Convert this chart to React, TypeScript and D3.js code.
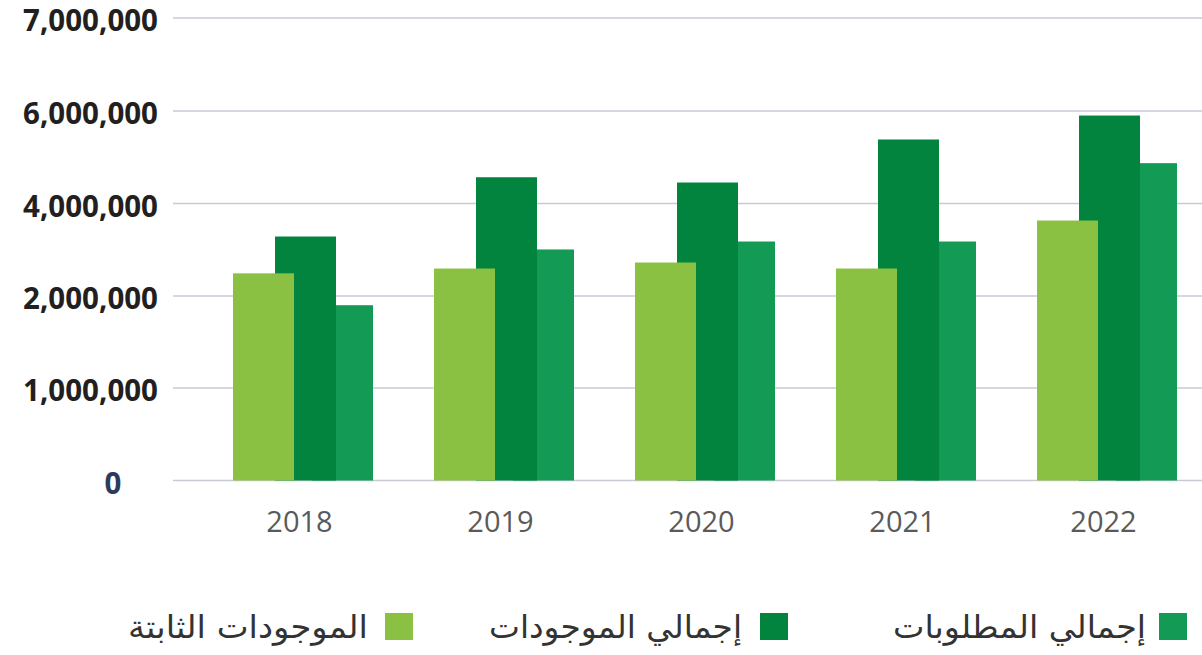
import React from "react";
import * as d3 from "d3";

const years = ["2018", "2019", "2020", "2021", "2022"];
const fixedAssets = [2490000, 2594000, 2724000, 2594000, 3632000];
const totalAssets = [3286000, 4568000, 4454000, 5384000, 5902000];
const totalLiabilities = [1900000, 3006000, 3178000, 3178000, 4872000];
const yTickValues = [0, 1000000, 2000000, 4000000, 6000000, 7000000];
const yTickLabels = ["0", "1,000,000", "2,000,000", "4,000,000", "6,000,000", "7,000,000"];

const seriesNames = ["الموجودات الثابتة", "إجمالي الموجودات", "إجمالي المطلوبات"];
const seriesColors = ["#8bc142", "#02843f", "#139a55"];

const W = 1202;
const H = 655;

export default function App() {
  const x = d3.scaleBand<string>().domain(years).range([173, 1236]).paddingInner(0.3085).paddingOuter(0.2985);
  const y = d3.scaleLinear().domain(yTickValues).range([480.5, 388, 296, 203.5, 111, 18]);
  const sub = d3.scaleOrdinal<number, number>().domain([0, 1, 2]).range([0, 42, 79]);
  const barW = 61;
  const series = [fixedAssets, totalAssets, totalLiabilities];
  const drawOrder = [2, 1, 0];

  const legendSquares = [385, 760, 1159];
  const legendTextEnd = [368, 742, 1146];
  const legendTextLen = [240, 253, 253];

  return (
    <svg width={W} height={H} style={{ position: "absolute", left: 0, top: 0, background: "#fff" }}>
      {yTickValues.map((v, i) => (
        <line key={"g" + i} x1={173} x2={W} y1={y(v)} y2={y(v)} stroke="#c9cad6" strokeWidth={1.5} />
      ))}
      {yTickValues.map((v, i) => (
        <text
          key={"yl" + i}
          x={v === 0 ? 113 : 158}
          y={y(v) + 13}
          textAnchor={v === 0 ? "middle" : "end"}
          fontFamily="'Open Sans', sans-serif"
          fontWeight={700}
          fontSize={29.5}
          fill={v === 0 ? "#2e3a5a" : "#231f20"}
        >
          {yTickLabels[i]}
        </text>
      ))}
      {drawOrder.map((s) =>
        years.map((yr, i) => (
          <rect
            key={"b" + s + "-" + i}
            x={(x(yr) as number) + sub(s)}
            y={y(series[s][i])}
            width={barW}
            height={y(0) - y(series[s][i])}
            fill={seriesColors[s]}
          />
        ))
      )}
      {years.map((yr) => (
        <text
          key={"xl" + yr}
          x={(x(yr) as number) + x.bandwidth() / 2 - 3}
          y={532}
          textAnchor="middle"
          fontFamily="'Open Sans', sans-serif"
          fontSize={29}
          fill="#5a5a5a"
        >
          {yr}
        </text>
      ))}
      {seriesNames.map((name, i) => (
        <g key={"lg" + i}>
          <rect x={legendSquares[i]} y={613} width={28} height={27} fill={seriesColors[i]} />
          <text
            x={legendTextEnd[i] - legendTextLen[i]}
            y={638}
            textLength={legendTextLen[i]}
            lengthAdjust="spacingAndGlyphs"
            fontFamily="'DejaVu Sans', sans-serif"
            fontSize={32}
            fill="#333333"
          >
            {name}
          </text>
        </g>
      ))}
    </svg>
  );
}
